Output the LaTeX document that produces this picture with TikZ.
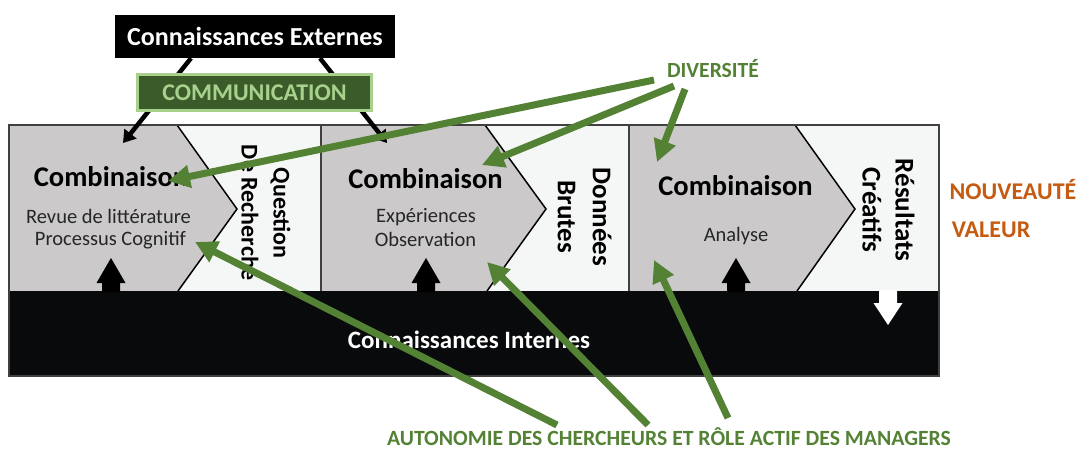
\documentclass[tikz,border=0pt]{standalone}
\usepackage{fontspec}
\setmainfont{Carlito}
\usetikzlibrary{arrows.meta}

\definecolor{combgray}{HTML}{CBC9CA}
\definecolor{paleback}{HTML}{F5F7F6}
\definecolor{bandblack}{HTML}{080A0B}
\definecolor{leafgreen}{HTML}{548235}
\definecolor{darkgreen}{HTML}{3B5C2A}
\definecolor{palegreen}{HTML}{A9D18E}
\definecolor{rustorange}{HTML}{C55A11}
\newcommand{\sizept}[2]{\fontsize{#1pt}{#2pt}\selectfont}

\begin{document}
\begin{tikzpicture}[x=1pt,y=-1pt,
	greenarrow/.style={leafgreen, line width=7pt, -{Triangle[length=22pt,width=22pt]}},
	blackarrow/.style={line width=4.5pt, -{Triangle[length=12pt,width=15pt]}},
	combtitle/.style={anchor=base, font=\bfseries\sizept{28.5}{34}},
	combline/.style={anchor=base, font=\sizept{20.5}{25}, text=black!85},
	sidelabel/.style={rotate=-90, align=center, font=\bfseries\sizept{27}{34}}]

	\useasboundingbox (0,0) rectangle (1080,450);

	% column 1
	\fill[paleback] (9,125) rectangle (321,291);
	\fill[combgray] (9,125) -- (177,125) -- (237,209) -- (178,291) -- (9,291) -- cycle;
	\draw[line width=1.5pt] (177,125) -- (237,209) -- (178,291);

	% column 2
	\fill[paleback] (321,125) rectangle (629,291);
	\fill[combgray] (321,125) -- (485,125) -- (546,209) -- (487,291) -- (321,291) -- cycle;
	\draw[line width=1.5pt] (485,125) -- (546,209) -- (487,291);

	% column 3
	\fill[paleback] (629,125) rectangle (939,291);
	\fill[combgray] (629,125) -- (795,125) -- (855,209) -- (797,291) -- (629,291) -- cycle;
	\draw[line width=1.5pt] (795,125) -- (855,209) -- (797,291);

	% internal knowledge band and frame
	\fill[bandblack] (9,291) rectangle (939,376);
	\draw[line width=1.5pt, black!75] (9,125) rectangle (939,376);
	\draw[line width=1.5pt, black!75] (321,125) -- (321,291);
	\draw[line width=1.5pt, black!75] (629,125) -- (629,291);

	% up and down arrows
	\fill[black] (102,292) -- (102,283) -- (96.5,283) -- (111,258) -- (125.5,283) -- (120,283) -- (120,292) -- cycle;
	\fill[black] (417,292) -- (417,283) -- (411.5,283) -- (426,258) -- (440.5,283) -- (435,283) -- (435,292) -- cycle;
	\fill[black] (727,292) -- (727,283) -- (721.5,283) -- (736,258) -- (750.5,283) -- (745,283) -- (745,292) -- cycle;
	\fill[white] (879,290) -- (879,303) -- (873.5,303) -- (888,325) -- (902.5,303) -- (897,303) -- (897,290) -- cycle;

	% column texts
	\node[combtitle] (comb1) at (111,186) {Combinaison};
	\node[combline] (revue) at (108.5,223) {Revue de littérature};
	\node[combline] (cogn) at (110.5,245) {Processus Cognitif};
	\node[combtitle] (comb2) at (425.5,188) {Combinaison};
	\node[combline] (exper) at (426,222) {Expériences};
	\node[combline] (obs) at (425.5,246) {Observation};
	\node[combtitle] (comb3) at (735.5,195) {Combinaison};
	\node[combline] (anal) at (736,241) {Analyse};

	\node[sidelabel, font=\bfseries\sizept{24}{32}] (quest) at (266,213) {Question\\De Recherche};
	\node[sidelabel, font=\bfseries\sizept{27}{35}] (donnees) at (584.5,217) {Données\\Brutes};
	\node[sidelabel, font=\bfseries\sizept{27}{33}] (result) at (888.5,210) {Résultats\\Créatifs};

	\node[anchor=base, text=white, font=\bfseries\sizept{25}{30}] (interne) at (469,348) {Connaissances Internes};

	% external knowledge and communication
	\node[fill=black, text=white, font=\bfseries\sizept{26}{31}, minimum width=280pt, minimum height=43pt, inner sep=0pt] (externe) at (255,36.5) {Connaissances Externes};
	\coordinate (in1) at (123,143);
	\coordinate (in2) at (387,143);
	\draw[blackarrow] ([xshift=-64pt]externe.south) -- (in1);
	\draw[blackarrow] ([xshift=65pt]externe.south) -- (in2);
	\node[fill=darkgreen, draw=palegreen, line width=3pt, text=palegreen, font=\bfseries\sizept{24}{29}, minimum width=234pt, minimum height=36pt, inner sep=0pt] (comm) at (254.5,92.5) {COMMUNICATION};

	% labels
	\node[anchor=base, text=leafgreen, font=\bfseries\sizept{21.6}{26}] (divers) at (713,77) {DIVERSITÉ};
	\node[anchor=base, text=rustorange, font=\bfseries\sizept{24}{29}] (nouv) at (1013,199) {NOUVEAUTÉ};
	\node[anchor=base, text=rustorange, font=\bfseries\sizept{24}{29}] (valeur) at (991,237) {VALEUR};
	\node[anchor=base, text=leafgreen, font=\bfseries\sizept{21.7}{26}] (autonom) at (669,445) {AUTONOMIE DES CHERCHEURS ET RÔLE ACTIF DES MANAGERS};

	% green arrows
	\coordinate (divA) at (654,80);
	\coordinate (divB) at (674,86);
	\coordinate (divC) at (685,89);
	\coordinate (autA) at (557,425);
	\coordinate (autB) at (648,425);
	\coordinate (autC) at (728,418);
	\coordinate (tipA1) at (168,181);
	\coordinate (tipB1) at (482,165);
	\coordinate (tipC1) at (657,162);
	\coordinate (tipA2) at (195,242);
	\coordinate (tipB2) at (487,262);
	\coordinate (tipC2) at (654,260);
	\draw[greenarrow] (divA) -- (tipA1);
	\draw[greenarrow] (divB) -- (tipB1);
	\draw[greenarrow] (divC) -- (tipC1);
	\draw[greenarrow] (autA) -- (tipA2);
	\draw[greenarrow] (autB) -- (tipB2);
	\draw[greenarrow] (autC) -- (tipC2);

\end{tikzpicture}
\end{document}
